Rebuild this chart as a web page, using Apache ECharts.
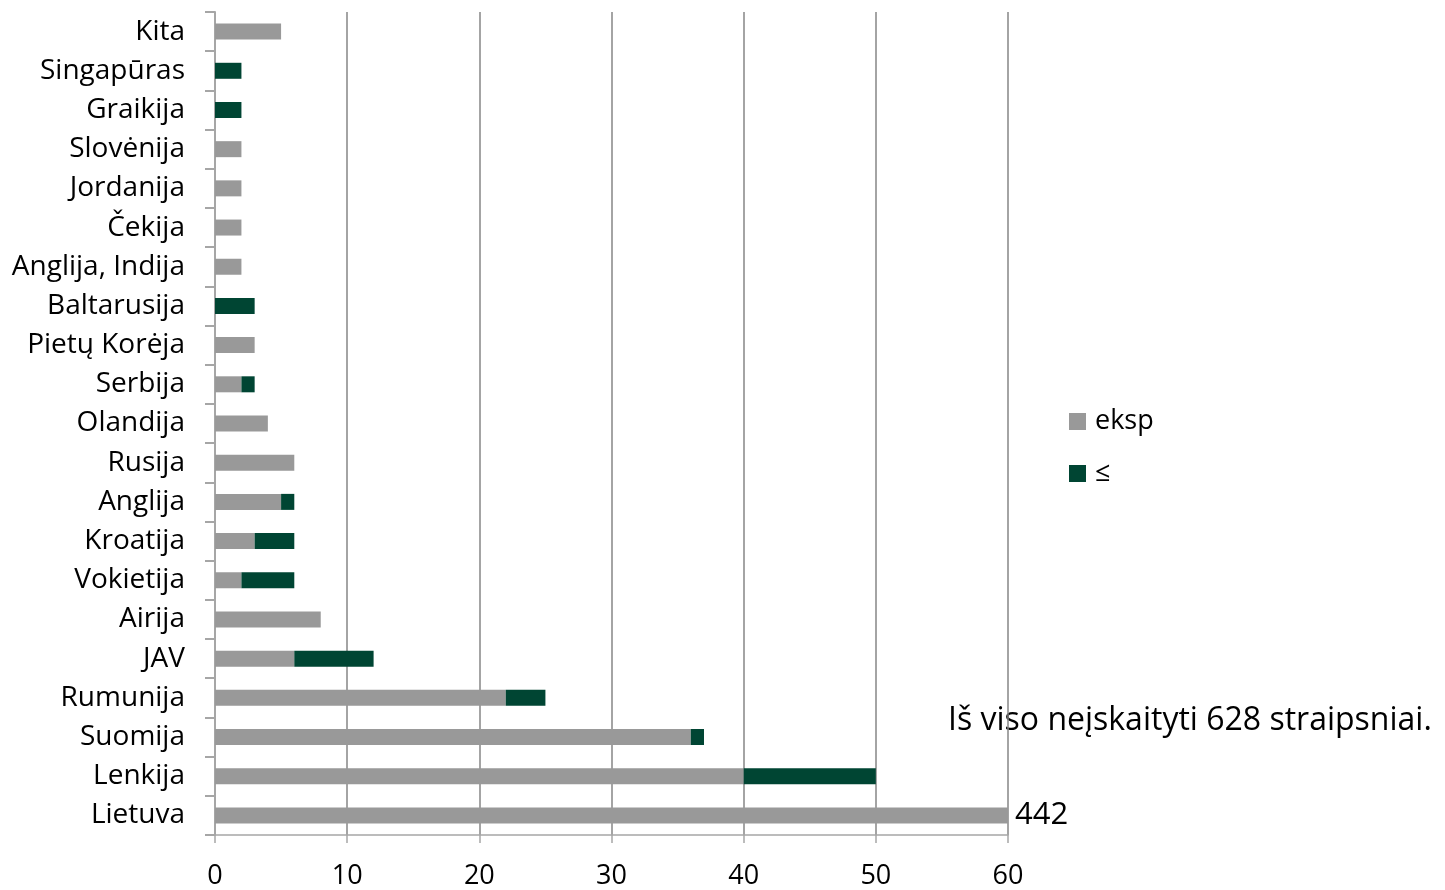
<!DOCTYPE html>
<html><head><meta charset="utf-8">
<script src="https://cdn.jsdelivr.net/npm/echarts@6/dist/echarts.min.js"></script>
<style>html,body{margin:0;padding:0;background:#fff}#c{width:1445px;height:890px}</style>
</head><body><div id="c"></div>
<script>
const categories = ['Lietuva','Lenkija','Suomija','Rumunija','JAV','Airija','Vokietija','Kroatija','Anglija','Rusija','Olandija','Serbija','Pietų Korėja','Baltarusija','Anglija, Indija','Čekija','Jordanija','Slovėnija','Graikija','Singapūras','Kita'];
const ekspValues = [442,40,36,22,6,8,2,3,5,6,4,2,3,0,2,2,2,2,0,0,5];
const leValues   = [0,10,1,3,6,0,4,3,1,0,0,1,0,3,0,0,0,0,2,2,0];
const xTicks = [0,10,20,30,40,50,60];
const seriesNames = ['eksp','≤'];
const note = 'Iš viso neįskaityti 628 straipsniai.';

const FONT = 'Open Sans';
const chart = echarts.init(document.getElementById('c'));
chart.setOption({
  animation:false,
  textStyle:{fontFamily:FONT},
  grid:{left:215,right:437,top:12,bottom:55,containLabel:false,outerBoundsMode:'none'},
  legend:{
    orient:'vertical', left:1064, top:403, itemWidth:17, itemHeight:17, itemGap:25,
    icon:'rect',
    textStyle:{fontSize:27,color:'#000',fontFamily:FONT,padding:[0,0,0,4]},
    data:seriesNames
  },
  xAxis:{
    type:'value', min:xTicks[0], max:xTicks[xTicks.length-1], interval:10,
    axisLine:{show:true,lineStyle:{color:'#a6a6a6',width:1.5}},
    axisTick:{show:true,length:8,lineStyle:{color:'#a6a6a6',width:1.5}},
    axisLabel:{fontSize:27,color:'#000',margin:28,fontFamily:FONT},
    splitLine:{show:true,lineStyle:{color:'#868686',width:1.5}}
  },
  yAxis:{
    type:'category', data:categories,
    axisLine:{show:true,lineStyle:{color:'#a6a6a6',width:2}},
    axisTick:{show:true,length:10,lineStyle:{color:'#a6a6a6',width:2}},
    axisLabel:{fontSize:28,color:'#000',margin:30,fontFamily:FONT},
    splitLine:{show:false}
  },
  series:[
    {name:seriesNames[0],type:'bar',stack:'s',data:ekspValues,barWidth:16,clip:true,
     itemStyle:{color:'#999999'},
     label:{show:true,position:'right',fontSize:31,color:'#000',fontFamily:FONT,distance:7,
       formatter:p=>p.dataIndex===0?String(p.value):''}},
    {name:seriesNames[1],type:'bar',stack:'s',data:leValues,barWidth:16,
     itemStyle:{color:'#004533'}}
  ],
  graphic:[{type:'text',left:948,top:705,z:-1,style:{text:note,fontSize:32,fontFamily:FONT,fill:'#000'}}]
});
</script></body></html>
